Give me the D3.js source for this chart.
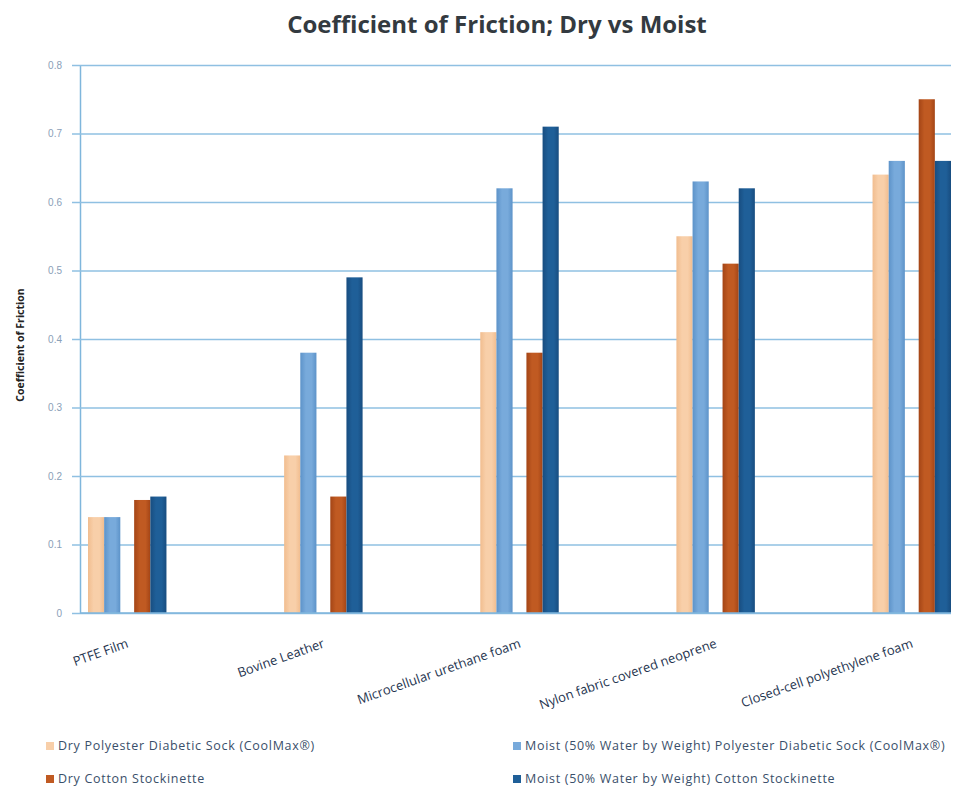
<!DOCTYPE html>
<html>
<head>
<meta charset="utf-8">
<script src="https://cdn.jsdelivr.net/npm/d3@7"></script>
<style>
  html, body { margin: 0; padding: 0; background: #ffffff; }
  svg { display: block; font-family: "Open Sans", "DejaVu Sans", sans-serif; }
</style>
</head>
<body>
<svg id="chart" width="966" height="793"></svg>
<script>
// ---- data ----
const categories = [
  "PTFE Film",
  "Bovine Leather",
  "Microcellular urethane foam",
  "Nylon fabric covered neoprene",
  "Closed-cell polyethylene foam"
];
const seriesNames = [
  "Dry Polyester Diabetic Sock (CoolMax®)",
  "Moist (50% Water by Weight) Polyester Diabetic Sock (CoolMax®)",
  "Dry Cotton Stockinette",
  "Moist (50% Water by Weight) Cotton Stockinette"
];
const dryPolyester   = [0.14, 0.23, 0.41, 0.55, 0.64];
const moistPolyester = [0.14, 0.38, 0.62, 0.63, 0.66];
const dryCotton      = [0.165, 0.17, 0.38, 0.51, 0.75];
const moistCotton    = [0.17, 0.49, 0.71, 0.62, 0.66];
const yTicks = [0, 0.1, 0.2, 0.3, 0.4, 0.5, 0.6, 0.7, 0.8];
const tickLabels = ["0", "0.1", "0.2", "0.3", "0.4", "0.5", "0.6", "0.7", "0.8"];
const seriesValues = [dryPolyester, moistPolyester, dryCotton, moistCotton];
const colors = ["#f8cfa9", "#78aadb", "#c05a22", "#1f5f98"];
const darkColors = ["#f1bd8f", "#5d93c9", "#a44516", "#184d80"];

// ---- layout ----
const svg = d3.select("#chart");
const plotLeft = 80, plotRight = 951, plotTop = 65, plotBottom = 613;

const y = d3.scaleLinear().domain([0, 0.8]).range([plotBottom, plotTop]);
const x = d3.scaleBand().domain(categories).range([88, 951]).paddingInner(0.6).paddingOuter(0);
const pair = d3.scaleBand().domain([0, 1]).range([0, x.bandwidth()]).paddingInner(0.3).paddingOuter(0);
const sub = d3.scaleBand().domain([0, 1]).range([0, pair.bandwidth()]).padding(0);

// gradients for bar shading
const defs = svg.append("defs");
colors.forEach((c, i) => {
  const g = defs.append("linearGradient").attr("id", "grad" + i)
    .attr("x1", "0%").attr("x2", "100%").attr("y1", "0%").attr("y2", "0%");
  g.append("stop").attr("offset", "0%").attr("stop-color", darkColors[i]);
  g.append("stop").attr("offset", "35%").attr("stop-color", c);
  g.append("stop").attr("offset", "70%").attr("stop-color", c);
  g.append("stop").attr("offset", "100%").attr("stop-color", darkColors[i]);
});

// title
svg.append("text")
  .attr("x", 497).attr("y", 33)
  .attr("text-anchor", "middle")
  .attr("font-size", 24).attr("font-weight", "bold")
  .attr("fill", "#333a40")
  .text("Coefficient of Friction; Dry vs Moist");

// gridlines
const yAxis = d3.axisLeft(y).tickValues(yTicks)
  .tickFormat((d, i) => tickLabels[i])
  .tickSize(-(plotRight - plotLeft)).tickSizeOuter(0).tickPadding(18);
const gy = svg.append("g").attr("transform", `translate(${plotLeft},0)`).call(yAxis);
gy.select(".domain").attr("stroke", "#7fb6dc").attr("stroke-width", 1.5);
gy.selectAll(".tick line").attr("stroke", "#8fc0e2").attr("stroke-width", 1.5).attr("x1", -8);
gy.selectAll(".tick text").attr("fill", "#8aa0b8").attr("font-size", 10);

// y-axis title
svg.append("text")
  .attr("transform", `translate(24,${(plotTop + plotBottom) / 2 + 6}) rotate(-90)`)
  .attr("text-anchor", "middle")
  .attr("font-size", 10.5).attr("font-weight", "bold")
  .attr("fill", "#222")
  .text("Coefficient of Friction");

// bars
const groups = svg.append("g").selectAll("g")
  .data(categories).join("g")
  .attr("transform", d => `translate(${x(d)},0)`);

groups.selectAll("rect")
  .data((d, ci) => seriesValues.map((vals, si) => ({ si, v: vals[ci] })))
  .join("rect")
  .attr("x", d => pair(Math.floor(d.si / 2)) + sub(d.si % 2))
  .attr("width", sub.bandwidth())
  .attr("y", d => y(d.v))
  .attr("height", d => y(0) - y(d.v))
  .attr("fill", d => `url(#grad${d.si})`);

// baseline
svg.append("line")
  .attr("x1", plotLeft).attr("x2", plotRight)
  .attr("y1", y(0)).attr("y2", y(0))
  .attr("stroke", "#7fb6dc").attr("stroke-width", 1.5);

// x labels
svg.append("g").selectAll("text")
  .data(categories).join("text")
  .attr("transform", d => `translate(${x(d) + x.bandwidth() / 2 + 2},${plotBottom + 34}) rotate(-19.5)`)
  .attr("text-anchor", "end")
  .attr("font-size", 13)
  .attr("fill", "#1f3550")
  .text(d => d);

// legend
const legendPos = [[46, 746], [513, 746], [46, 779], [513, 779]];
const leg = svg.append("g").selectAll("g")
  .data(seriesNames).join("g")
  .attr("transform", (d, i) => `translate(${legendPos[i][0]},${legendPos[i][1]})`);
leg.append("rect").attr("x", 0).attr("y", -4).attr("width", 8).attr("height", 8)
  .attr("fill", (d, i) => colors[i]);
leg.append("text").attr("x", 12).attr("y", 0).attr("dy", "0.35em")
  .attr("font-size", 12.5).attr("letter-spacing", 0.7).attr("fill", "#3a4f6a")
  .text(d => d);
</script>
</body>
</html>
